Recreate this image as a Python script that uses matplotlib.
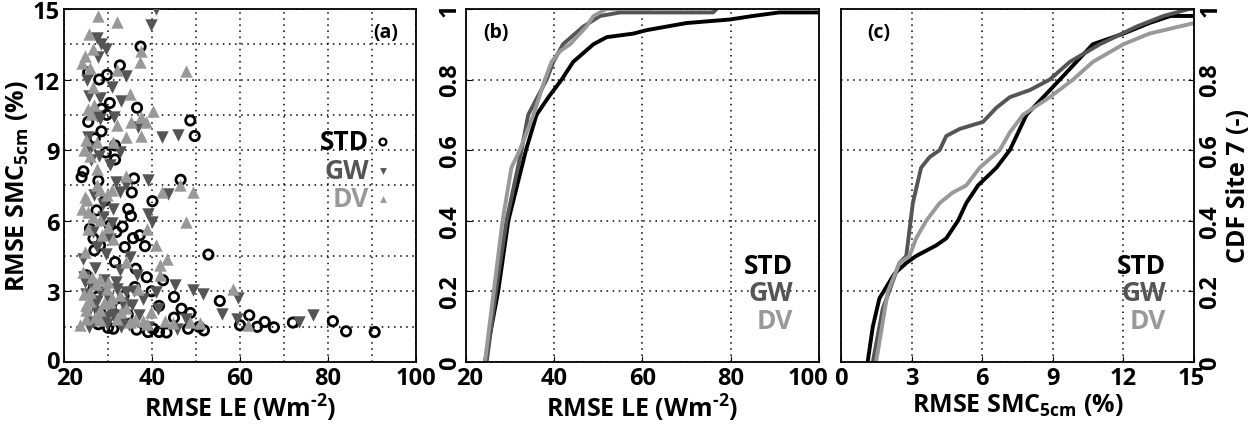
import matplotlib.pyplot as plt
import matplotlib as mpl
import matplotlib.transforms as mtransforms
import numpy as np

# ---------------------------------------------------------------------------
# Data
# ---------------------------------------------------------------------------

# (a) scatter: RMSE LE (W m-2) vs RMSE SMC 5cm (%)
std_le = [37.4, 32.7, 29.8, 28.0, 25.5, 30.4, 36.6, 28.5, 25.5, 48.7, 49.7, 29.7,
          28.5, 31.6, 31.6, 24.4, 24.0, 27.8, 35.9, 46.5, 40.1, 35.4, 34.6, 35.2,
          33.3, 35.7, 37.2, 38.4, 33.8, 26.7, 28.2, 52.8, 31.6, 36.3, 38.8, 42.5,
          39.9, 36.1, 45.0, 55.4, 41.6, 46.7, 48.7, 45.0, 62.1, 60.0, 63.9, 65.6,
          67.7, 72.0, 81.1, 84.1, 90.6, 51.8, 48.2, 50.7, 40.3, 41.6, 43.3, 39.1,
          31.2, 36.5, 32.7, 28.2, 26.7, 25.1, 29.3, 27.4, 30.4, 31.9, 25.9, 26.9,
          27.0, 29.5, 33.5, 30.0, 27.8, 34.5]
std_smc = [13.4, 12.6, 12.2, 12.0, 12.3, 11.0, 10.8, 10.75, 10.2, 10.26, 9.6, 10.5,
           9.8, 9.2, 8.6, 8.1, 7.85, 7.7, 7.8, 7.74, 6.83, 7.2, 6.5, 6.2,
           5.75, 5.26, 5.38, 4.92, 4.88, 5.24, 4.95, 4.56, 4.24, 3.96, 3.6, 3.47,
           3.0, 3.18, 2.76, 2.59, 2.38, 2.26, 2.08, 1.88, 1.98, 1.56, 1.49, 1.70,
           1.47, 1.67, 1.73, 1.30, 1.27, 1.34, 1.41, 1.49, 1.41, 1.27, 1.25, 1.27,
           1.41, 1.37, 2.33, 2.12, 3.11, 3.68, 6.86, 6.44, 5.80, 5.52, 5.66, 4.74,
           9.5, 8.9, 2.8, 1.45, 1.6, 2.0]

gw_le = [41.0, 39.7, 27.4, 28.3, 29.5, 27.7, 34.2, 30.8, 25.7, 28.2, 32.9, 27.4,
         31.3, 36.9, 42.2, 45.9, 25.5, 28.0, 30.4, 32.8, 39.1, 43.7, 31.9, 34.2,
         32.7, 39.1, 40.1, 31.2, 28.9, 26.7, 30.4, 35.0, 32.7, 36.5, 45.2, 49.2,
         51.5, 59.6, 56.0, 59.2, 76.6, 73.4, 31.2, 25.7, 26.7, 28.2, 24.8, 34.2,
         37.9, 41.0, 37.0, 41.4, 32.7, 29.7, 25.3, 25.9, 28.2, 26.9, 24.4, 27.8,
         45.6, 47.8, 39.1, 24.6, 26.0, 27.5, 29.0, 30.5, 32.0, 33.5, 35.5, 25.2,
         26.5, 28.5, 30.0, 31.8, 33.0, 27.0, 29.5, 34.8, 26.2, 28.8, 31.0, 27.6,
         25.0, 29.8, 33.8, 36.0]
gw_smc = [15.0, 14.3, 13.75, 13.5, 13.3, 12.95, 12.14, 11.67, 11.3, 11.2, 11.1, 10.47,
          10.4, 9.98, 9.55, 9.65, 9.55, 8.77, 8.35, 8.91, 7.71, 7.15, 7.64, 7.5,
          7.22, 6.3, 5.94, 6.51, 6.15, 5.52, 5.24, 4.46, 3.89, 3.68, 3.25, 3.07,
          2.9, 2.73, 2.05, 1.84, 1.98, 1.70, 1.98, 1.49, 2.4, 2.97, 3.4, 2.97,
          2.69, 2.97, 1.98, 2.26, 1.63, 1.63, 12.0, 9.06, 10.33, 7.08, 4.39, 2.12,
          1.41, 1.84, 1.49, 3.6, 3.3, 2.6, 3.5, 2.2, 3.1, 2.5, 2.4, 2.0,
          1.7, 1.8, 2.7, 3.4, 1.5, 4.0, 4.6, 1.55, 8.6, 6.7, 5.9, 4.9,
          2.9, 1.9, 2.3, 3.0]

dv_le = [27.8, 31.95, 25.75, 26.5, 37.4, 37.2, 47.8, 32.1, 24.8, 25.9, 26.7, 35.05,
         25.5, 26.1, 40.3, 35.2, 37.5, 38.7, 32.1, 37.5, 34.2, 25.1, 27.4, 31.2,
         25.9, 27.4, 34.2, 46.3, 49.2, 42.3, 24.8, 27.4, 29.7, 28.2, 30.8, 47.8,
         24.0, 25.5, 26.7, 28.2, 30.1, 25.4, 38.8, 41.0, 43.4, 41.9, 24.8, 31.2,
         34.2, 58.5, 41.8, 24.4, 28.2, 25.9, 29.7, 32.7, 36.9, 25.1, 28.2, 30.4,
         25.1, 28.2, 32.1, 35.0, 38.0, 42.9, 44.8, 48.6, 50.9, 61.9, 39.7, 38.8,
         23.6, 24.5, 26.0, 27.2, 29.0, 31.0, 33.0, 27.0, 25.0, 30.0, 26.3, 34.0,
         24.2, 26.8, 24.6, 25.3, 28.6, 36.2]
dv_smc = [14.7, 14.46, 13.94, 13.3, 13.2, 12.76, 12.38, 12.42, 13.0, 12.5, 11.67, 11.39,
          10.75, 10.54, 10.68, 10.19, 10.4, 10.19, 10.07, 9.62, 9.55, 9.41, 9.34, 9.34,
          8.77, 8.21, 7.92, 7.5, 7.22, 7.22, 7.0, 7.5, 7.08, 7.29, 7.29, 5.94,
          6.5, 6.37, 6.15, 6.01, 5.73, 5.66, 5.66, 4.95, 4.39, 4.10, 4.67, 5.24,
          4.24, 3.11, 3.68, 3.82, 3.54, 2.97, 3.11, 2.83, 3.11, 2.4, 2.19, 2.55,
          1.84, 1.77, 1.84, 1.70, 1.73, 1.73, 1.67, 1.70, 1.67, 1.56, 2.12, 1.63,
          1.56, 2.9, 2.6, 3.3, 2.5, 2.7, 2.1, 1.9, 2.2, 3.4, 3.6, 2.3,
          12.7, 10.9, 9.0, 6.9, 5.4, 1.8]

# (b) CDF of RMSE LE
cdf_le_std_x = [24.3, 27.3, 29.6, 33.6, 36.0, 38.7, 41.7, 44.3, 48.9, 51.9, 57.9,
                61.0, 70.0, 79.8, 85.0, 91.0, 100.0]
cdf_le_std_y = [0.0, 0.2, 0.4, 0.6, 0.7, 0.75, 0.8, 0.85, 0.9, 0.92, 0.93,
                0.94, 0.96, 0.97, 0.98, 0.99, 0.99]
cdf_le_gw_x = [24.7, 26.8, 29.2, 32.6, 34.1, 38.3, 39.8, 42.0, 46.6, 50.4, 54.9, 76.0, 76.8]
cdf_le_gw_y = [0.0, 0.2, 0.4, 0.6, 0.7, 0.8, 0.85, 0.9, 0.95, 0.98, 0.99, 0.99, 1.0]
cdf_le_dv_x = [24.3, 26.3, 28.3, 30.3, 32.2, 35.3, 37.9, 39.4, 41.3, 43.6, 47.3, 48.9,
               51.9, 61.7]
cdf_le_dv_y = [0.0, 0.2, 0.4, 0.55, 0.6, 0.7, 0.8, 0.85, 0.88, 0.9, 0.95, 0.98,
               1.0, 1.0]

# (c) CDF of RMSE SMC 5cm
cdf_smc_std_x = [1.13, 1.35, 1.63, 2.27, 2.77, 3.19, 4.04, 4.47, 4.97, 5.32, 5.82,
                 6.6, 7.17, 7.88, 8.59, 9.3, 10.0, 10.7, 12.0, 13.1, 14.0, 15.0]
cdf_smc_std_y = [0.0, 0.1, 0.18, 0.25, 0.28, 0.3, 0.33, 0.35, 0.4, 0.45, 0.5,
                 0.55, 0.6, 0.7, 0.75, 0.8, 0.85, 0.9, 0.93, 0.96, 0.98, 0.98]
cdf_smc_gw_x = [1.35, 1.77, 2.48, 2.77, 3.05, 3.4, 3.76, 4.19, 4.47, 5.04, 6.03,
                6.6, 7.17, 8.02, 8.87, 9.72, 11.0, 12.56, 13.7, 14.8, 15.0]
cdf_smc_gw_y = [0.0, 0.15, 0.28, 0.3, 0.45, 0.55, 0.58, 0.6, 0.64, 0.66, 0.68,
                0.72, 0.75, 0.77, 0.8, 0.85, 0.9, 0.95, 0.98, 1.0, 1.0]
cdf_smc_dv_x = [1.49, 1.99, 2.48, 2.91, 3.19, 3.62, 4.19, 4.75, 5.32, 5.89, 6.74,
                7.17, 7.73, 8.87, 9.86, 10.7, 12.0, 13.1, 15.0]
cdf_smc_dv_y = [0.0, 0.2, 0.28, 0.3, 0.35, 0.4, 0.45, 0.48, 0.5, 0.55, 0.6,
                0.65, 0.7, 0.75, 0.8, 0.85, 0.9, 0.93, 0.96]

names = ["STD", "GW", "DV"]
colors = ["#000000", "#555555", "#999999"]
cdf_ticklabels = ["0", "0.2", "0.4", "0.6", "0.8", "1"]

# ---------------------------------------------------------------------------
# Style
# ---------------------------------------------------------------------------
FS = 18
mpl.rcParams.update({
    "font.family": ["Open Sans", "DejaVu Sans"],
    "font.weight": "bold",
    "font.size": FS,
    "axes.labelweight": "bold",
    "axes.labelsize": FS,
    "axes.linewidth": 1.3,
    "mathtext.fontset": "custom",
    "mathtext.rm": "Open Sans:bold",
    "mathtext.it": "Open Sans:bold",
    "mathtext.bf": "Open Sans:bold",
    "xtick.direction": "in",
    "ytick.direction": "in",
    "xtick.major.size": 4,
    "ytick.major.size": 4,
    "xtick.major.pad": 3,
    "ytick.major.pad": 3,
    "xtick.labelsize": 17,
    "ytick.labelsize": 17,
})

fig = plt.figure(figsize=(12.6, 4.31), dpi=100)
ax_a = fig.add_axes([0.0508, 0.158, 0.2794, 0.819])
ax_b = fig.add_axes([0.3698, 0.158, 0.2802, 0.819])
ax_c = fig.add_axes([0.6675, 0.158, 0.2802, 0.819])

grid_kw = dict(color="black", linestyle=(0, (1, 3)), linewidth=1.1)
le_label = r"RMSE LE (Wm$^{\text{-}2}$)"
smc_label = r"RMSE SMC$_{5cm}$ (%)"


def nudge(label, dx_px, dy_px=0):
    """Shift a tick label by a few pixels (MATLAB keeps end labels inside)."""
    off = mtransforms.ScaledTranslation(dx_px / 100, dy_px / 100, fig.dpi_scale_trans)
    label.set_transform(label.get_transform() + off)


# ---- (a) scatter ----
ax_a.scatter(std_le, std_smc, s=45, facecolors="none", edgecolors=colors[0],
             linewidths=2.0, marker="o", zorder=3)
ax_a.scatter(gw_le, gw_smc, s=80, color=colors[1], marker="v", linewidths=0, zorder=3)
ax_a.scatter(dv_le, dv_smc, s=80, color=colors[2], marker="^", linewidths=0, zorder=3)
ax_a.set_xlim(20, 100)
ax_a.set_ylim(0, 15)
ax_a.set_xticks(np.arange(20, 101, 20))
ax_a.set_yticks(np.arange(0, 16, 3))
ax_a.set_xticks(np.arange(30, 100, 20), minor=True)
ax_a.set_yticks(np.arange(1.5, 15, 3), minor=True)
ax_a.tick_params(which="minor", length=0)
ax_a.grid(True, which="both", **grid_kw)
ax_a.set_axisbelow(True)
ax_a.set_xlabel(le_label, labelpad=1)
ax_a.set_ylabel(smc_label, labelpad=1)
ax_a.text(0.95, 0.935, "(a)", transform=ax_a.transAxes, ha="right", va="center",
          fontsize=14)

# legend (a): coloured names, marker to the right
leg_y = [0.623, 0.541, 0.462]
leg_marker = [("o", "none", 1.6), ("v", colors[1], 0), ("^", colors[2], 0)]
for name, col, y, (mk, fc, lw) in zip(names, colors, leg_y, leg_marker):
    ax_a.text(0.866, y, name, transform=ax_a.transAxes, ha="right", va="center",
              color=col, fontsize=19)
    ax_a.scatter([0.906], [y], transform=ax_a.transAxes, marker=mk, s=24,
                 facecolors=fc, edgecolors=colors[0] if mk == "o" else col,
                 linewidths=lw, zorder=4, clip_on=False)

# ---- (b) CDF of RMSE LE ----
lw = 2.8
ax_b.plot(cdf_le_std_x, cdf_le_std_y, color=colors[0], lw=lw)
ax_b.plot(cdf_le_gw_x, cdf_le_gw_y, color=colors[1], lw=lw)
ax_b.plot(cdf_le_dv_x, cdf_le_dv_y, color=colors[2], lw=lw)
ax_b.set_xlim(20, 100)
ax_b.set_ylim(0, 1)
ax_b.set_xticks(np.arange(20, 101, 20))
ax_b.set_yticks(np.arange(0, 1.01, 0.2))
ax_b.set_yticklabels(cdf_ticklabels, rotation=90, va="center")
ax_b.grid(True, **grid_kw)
ax_b.set_axisbelow(True)
ax_b.set_xlabel(le_label, labelpad=1)
ax_b.text(0.05, 0.935, "(b)", transform=ax_b.transAxes, ha="left", va="center",
          fontsize=14)
for name, col, y in zip(names, colors, [0.272, 0.198, 0.116]):
    ax_b.text(0.926, y, name, transform=ax_b.transAxes, ha="right", va="center",
              color=col, fontsize=19)

# ---- (c) CDF of RMSE SMC ----
ax_c.plot(cdf_smc_std_x, cdf_smc_std_y, color=colors[0], lw=lw)
ax_c.plot(cdf_smc_gw_x, cdf_smc_gw_y, color=colors[1], lw=lw)
ax_c.plot(cdf_smc_dv_x, cdf_smc_dv_y, color=colors[2], lw=lw)
ax_c.set_xlim(0, 15)
ax_c.set_ylim(0, 1)
ax_c.set_xticks(np.arange(0, 16, 3))
ax_c.set_yticks(np.arange(0, 1.01, 0.2))
ax_c.yaxis.tick_right()
ax_c.yaxis.set_label_position("right")
ax_c.set_yticklabels(cdf_ticklabels, rotation=90, va="center")
ax_c.grid(True, **grid_kw)
ax_c.set_axisbelow(True)
ax_c.set_xlabel(smc_label, labelpad=1)
ax_c.set_ylabel("CDF Site 7 (-)", labelpad=3)
ax_c.text(0.074, 0.935, "(c)", transform=ax_c.transAxes, ha="left", va="center",
          fontsize=14)
for name, col, y in zip(names, colors, [0.272, 0.198, 0.116]):
    ax_c.text(0.92, y, name, transform=ax_c.transAxes, ha="right", va="center",
              color=col, fontsize=19)

# keep end tick labels from running into the neighbouring panel
nudge(ax_a.get_xticklabels()[0], 6)
nudge(ax_a.get_yticklabels()[0], 0, 3)
nudge(ax_b.get_xticklabels()[0], 4)
nudge(ax_b.get_xticklabels()[-1], -11)
nudge(ax_c.get_xticklabels()[-1], -3)

fig.savefig("out.png", dpi=100)
